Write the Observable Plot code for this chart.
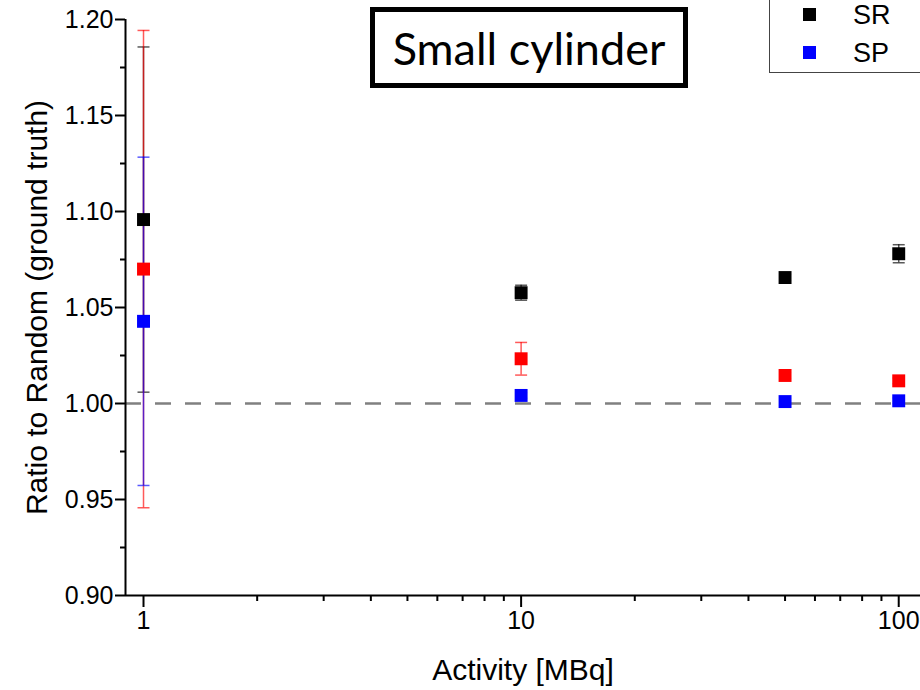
<!DOCTYPE html>
<html><head><meta charset="utf-8">
<script src="https://cdn.jsdelivr.net/npm/d3@7"></script>
<script src="https://cdn.jsdelivr.net/npm/@observablehq/plot@0.6"></script>
<style>
body{margin:0;background:#fff;}
#wrap{position:relative;width:920px;height:690px;overflow:hidden;font-family:"Liberation Sans",Arial,sans-serif;}
#title{position:absolute;left:370px;top:7px;width:308px;height:71px;border:5px solid #000;background:#fff;display:flex;align-items:center;justify-content:center;font-family:Lato,"Open Sans",sans-serif;font-size:45px;color:#000;}
#legend{position:absolute;left:769px;top:-40px;width:170px;height:111px;border:1px solid #444;background:#fff;}
.entry{position:absolute;left:0;width:170px;height:30px;}
.sw{position:absolute;left:33px;top:8px;width:13px;height:13px;}
.lab{position:absolute;left:83px;top:0;line-height:30px;font-size:27px;}
</style></head><body><div id="wrap"></div>
<script>
// Data
const activity = [1, 10, 50, 100];
const seriesNames = ["SR", "RD", "SP"];
const seriesColors = ["#000000", "#ff0000", "#0000ff"];
const srValues  = [1.0958, 1.0577, 1.0656, 1.0780];
const srErrors  = [0.0899, 0.0039, 0.0015, 0.0047];
const rdValues  = [1.0700, 1.0233, 1.0146, 1.0118];
const rdErrors  = [0.1243, 0.0085, 0.0015, 0.0015];
const spValues  = [1.0428, 1.0042, 1.0010, 1.0014];
const spErrors  = [0.0855, 0.0015, 0.0015, 0.0015];
const yMajorTicks = [0.90, 0.95, 1.00, 1.05, 1.10, 1.15, 1.20];
const yMinorTicks = [0.925, 0.975, 1.025, 1.075, 1.125, 1.175];
const xMajorTicks = [1, 10, 100];
const xMinorTicks = [2, 3, 4, 5, 6, 7, 8, 9, 20, 30, 40, 50, 60, 70, 80, 90];
const referenceLine = [1.0];
const xTitle = "Activity [MBq]";
const yTitle = "Ratio to Random (ground truth)";
const chartTitle = "Small cylinder";

const allValues = [srValues, rdValues, spValues];
const allErrors = [srErrors, rdErrors, spErrors];
const rows = [];
seriesNames.forEach((s, si) => {
  activity.forEach((a, i) => {
    rows.push({series: s, si, activity: a, value: allValues[si][i],
      lo: allValues[si][i] - allErrors[si][i], hi: allValues[si][i] + allErrors[si][i]});
  });
});

const capSymbol = {draw(ctx) { ctx.moveTo(-6, 0); ctx.lineTo(6, 0); }};

const seriesMarks = [];
seriesNames.forEach((s, si) => {
  const d = rows.filter(r => r.si === si);
  const c = seriesColors[si];
  seriesMarks.push(
    Plot.ruleX(d, {x: "activity", y1: "lo", y2: "hi", stroke: c, strokeOpacity: 0.65, strokeWidth: 1.5}),
    Plot.dot(d, {x: "activity", y: "lo", symbol: capSymbol, stroke: c, strokeOpacity: 0.65, strokeWidth: 1.5, fill: "none", r: 4}),
    Plot.dot(d, {x: "activity", y: "hi", symbol: capSymbol, stroke: c, strokeOpacity: 0.65, strokeWidth: 1.5, fill: "none", r: 4})
  );
});
seriesNames.forEach((s, si) => {
  const d = rows.filter(r => r.si === si);
  seriesMarks.push(Plot.dot(d, {x: "activity", y: "value", symbol: "square", r: 7.3, fill: seriesColors[si], stroke: "none"}));
});

const xDomain = [0.896, 114.2];
const yDomain = [0.9, 1.2];

const chart = Plot.plot({
  width: 920, height: 690,
  marginLeft: 125, marginRight: 0, marginTop: 19, marginBottom: 95,
  style: {fontFamily: "'Liberation Sans', Arial, sans-serif", fontSize: "25px", color: "#000", background: "transparent", overflow: "visible"},
  x: {type: "log", domain: xDomain},
  y: {domain: yDomain},
  marks: [
    Plot.ruleY(referenceLine, {stroke: "#808080", strokeWidth: 2.5, strokeDasharray: "16,14"}),
    Plot.axisY({ticks: yMinorTicks, tickSize: 5, tickFormat: () => "", label: null, strokeWidth: 2}),
    Plot.axisY({ticks: yMajorTicks, tickSize: 10, tickPadding: 2, tickFormat: d3.format(".2f"), label: null, strokeWidth: 2, fontSize: 25}),
    Plot.axisX({ticks: xMinorTicks, tickSize: 6, tickFormat: () => "", label: null, strokeWidth: 2}),
    Plot.axisX({ticks: xMajorTicks, tickSize: 12, tickPadding: 4, tickFormat: d => String(d), label: null, strokeWidth: 2, fontSize: 25}),
    Plot.ruleY([yDomain[0]], {stroke: "#000", strokeWidth: 2}),
    Plot.ruleX([xDomain[0]], {stroke: "#000", strokeWidth: 2}),
    Plot.text([xTitle], {frameAnchor: "bottom", dy: 75, fontSize: 30, textAnchor: "middle", lineAnchor: "middle"}),
    Plot.text([yTitle], {frameAnchor: "left", dx: -88, rotate: -90, fontSize: 30, textAnchor: "middle", lineAnchor: "middle"}),
    ...seriesMarks
  ]
});

const wrap = document.getElementById("wrap");
wrap.appendChild(chart);

const t = document.createElement("div");
t.id = "title"; t.textContent = chartTitle;
wrap.appendChild(t);

const lg = document.createElement("div");
lg.id = "legend";
// legend box top sits 40px above the picture; entry centres at y = 14 and 52 in the picture
const legendItems = [[seriesNames[0], seriesColors[0], 54], [seriesNames[2], seriesColors[2], 92]];
legendItems.forEach(([name, color, center]) => {
  const e = document.createElement("div");
  e.className = "entry"; e.style.top = (center - 15) + "px";
  const sw = document.createElement("div"); sw.className = "sw"; sw.style.background = color;
  const lb = document.createElement("div"); lb.className = "lab"; lb.textContent = name;
  e.appendChild(sw); e.appendChild(lb);
  lg.appendChild(e);
});
wrap.appendChild(lg);
</script>
</body></html>
